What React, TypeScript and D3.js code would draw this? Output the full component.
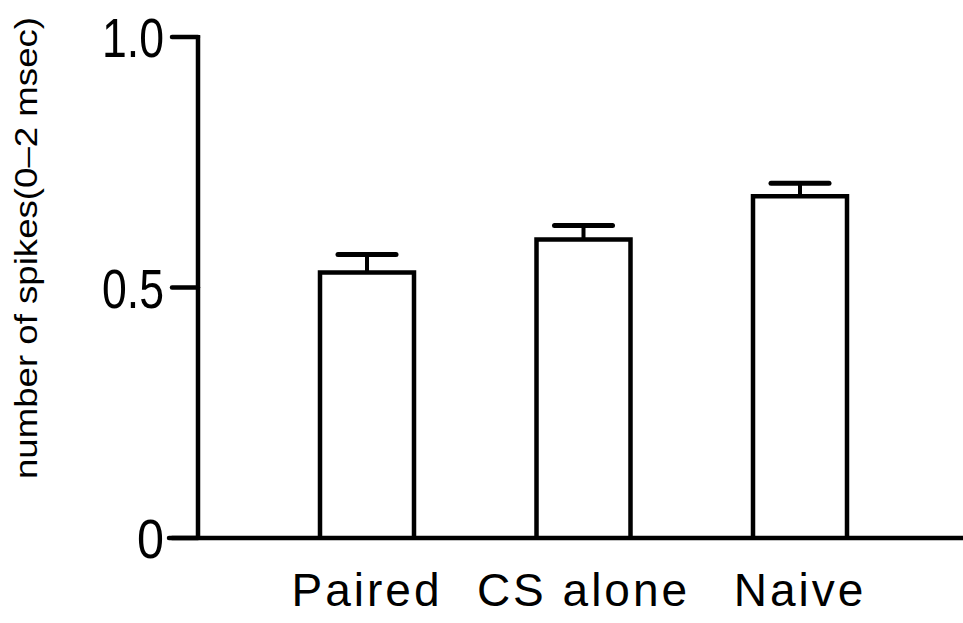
import React from 'react';
import * as d3 from 'd3';

// bar groups and their means
const categories = ['Paired', 'CS alone', 'Naive'];
const means = [0.53, 0.596, 0.682];
const upperErr = [0.566, 0.624, 0.708];
const tickValues = [0, 0.5, 1.0];
const tickLabels = ['0', '0.5', '1.0'];
const yLabel = 'number of spikes(0\u20132 msec)';

const W = 963;
const H = 623;
const axisX = 198;
const barWidth = 94;
const capWidth = 58;
const font = '"Liberation Sans", Arial, sans-serif';

export default function App() {
  const y = d3.scaleLinear().domain([0, 1]).range([538, 37]);
  const x = d3.scalePoint<string>().domain(categories).range([367, 800]);

  return (
    <svg
      width={W}
      height={H}
      style={{ position: 'absolute', left: 0, top: 0, background: '#fff' }}
    >
      {/* y label */}
      <text
        transform={`translate(37, 248) rotate(-90)`}
        textAnchor="middle"
        fontFamily={font}
        fontSize={32}
        textLength={462}
        lengthAdjust="spacingAndGlyphs"
      >
        {yLabel}
      </text>

      {/* y axis */}
      <line x1={axisX} x2={axisX} y1={y(1) - 2} y2={y(0)} stroke="#000" strokeWidth={4.5} />
      {tickValues.map((t, i) => (
        <g key={t}>
          <line x1={172} x2={axisX} y1={y(t)} y2={y(t)} stroke="#000" strokeWidth={4.5} strokeLinecap="round" />
          <text
            x={164}
            y={y(t) + 20}
            textAnchor="end"
            fontFamily={font}
            fontSize={56}
            textLength={tickLabels[i].length === 1 ? 27 : 62}
            lengthAdjust="spacingAndGlyphs"
          >
            {tickLabels[i]}
          </text>
        </g>
      ))}

      {/* bars */}
      {categories.map((c, i) => {
        const cx = x(c) as number;
        return (
          <g key={c}>
            <line x1={cx} x2={cx} y1={y(upperErr[i])} y2={y(means[i])} stroke="#000" strokeWidth={4} />
            <line
              x1={cx - capWidth / 2}
              x2={cx + capWidth / 2}
              y1={y(upperErr[i])}
              y2={y(upperErr[i])}
              stroke="#000"
              strokeWidth={5}
              strokeLinecap="round"
            />
            <path
              d={`M${cx - barWidth / 2},${y(0)}V${y(means[i])}H${cx + barWidth / 2}V${y(0)}`}
              fill="none"
              stroke="#000"
              strokeWidth={4.5}
            />
            <text
              x={cx}
              y={606}
              textAnchor="middle"
              fontFamily={font}
              fontSize={46}
              letterSpacing={3}
            >
              {c}
            </text>
          </g>
        );
      })}

      {/* x axis */}
      <line x1={169} x2={W} y1={y(0)} y2={y(0)} stroke="#000" strokeWidth={4.5} strokeLinecap="round" />
    </svg>
  );
}
